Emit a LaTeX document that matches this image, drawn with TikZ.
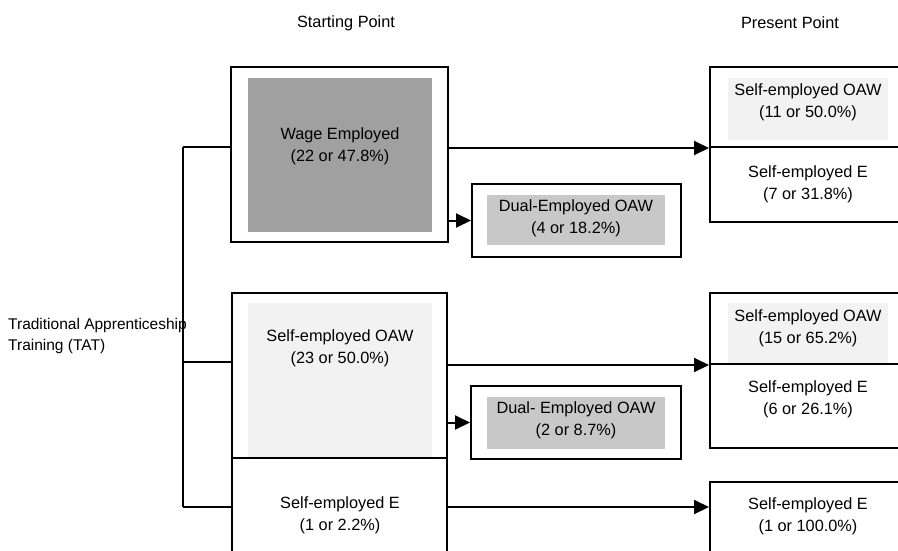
\documentclass[tikz,border=0pt]{standalone}
\usepackage{fontspec}
\setmainfont{Liberation Sans}
\usetikzlibrary{arrows.meta}
\definecolor{wagegrey}{HTML}{A0A0A0}
\definecolor{dualgrey}{HTML}{C8C8C8}
\definecolor{oawgrey}{HTML}{F2F2F2}
\tikzset{
  outerbox/.style={draw=black, line width=2pt, fill=white, rectangle, inner sep=0pt},
  shade/.style={rectangle, inner sep=0pt, draw=none},
  lbl/.style={align=center, inner sep=0pt, font=\fontsize{16.3}{22}\selectfont},
  link/.style={line width=2pt},
  arr/.style={line width=2pt, -{Triangle[length=15pt,width=14pt]}}
}
\begin{document}
\begin{tikzpicture}[x=1pt,y=-1pt]
\useasboundingbox (0,0) rectangle (898,550);
\clip (0,0) rectangle (898,550);

% headings
\node[lbl] (hstart) at (346,23) {Starting Point};
\node[lbl] (hpresent) at (790,23) {Present Point};

% left label
\node[align=left, anchor=west, inner sep=0pt, font=\fontsize{15.5}{21}\selectfont] (tat) at (8,335.5)
  {Traditional Apprenticeship\\Training (TAT)};

% starting point: wage employed
\node[outerbox, minimum width=217pt, minimum height=175pt] (wage) at (339.5,154.5) {};
\node[shade, fill=wagegrey, minimum width=184pt, minimum height=154pt] (wagein) at (340,155) {};
\node[lbl] (wagetxt) at (340,146) {Wage Employed\\ (22 or 47.8\%)};

% starting point: self-employed OAW
\node[outerbox, minimum width=215pt, minimum height=165pt] (midoaw) at (339.5,375.5) {};
\node[shade, fill=oawgrey, minimum width=184pt, minimum height=154pt] (midoawin) at (340,380) {};
\node[lbl] (midoawtxt) at (340,348.5) {Self-employed OAW\\(23 or 50.0\%)};

% starting point: self-employed E
\node[outerbox, minimum width=215pt, minimum height=98pt] (mide) at (339.5,507) {};
\node[lbl] (midetxt) at (340,515) {Self-employed E\\(1 or 2.2\%)};

% dual employed boxes
\node[outerbox, minimum width=209pt, minimum height=73pt] (dual1) at (576.5,220.5) {};
\node[shade, fill=dualgrey, minimum width=178pt, minimum height=50pt] (dual1in) at (576,220) {};
\node[lbl] (dual1txt) at (576,218) {Dual-Employed OAW\\(4 or 18.2\%)};

\node[outerbox, minimum width=210pt, minimum height=73pt] (dual2) at (576,422.5) {};
\node[shade, fill=dualgrey, minimum width=178pt, minimum height=52pt] (dual2in) at (576,423) {};
\node[lbl] (dual2txt) at (576,420) {Dual- Employed OAW\\(2 or 8.7\%)};

% present point, first group
\node[outerbox, minimum width=200pt, minimum height=80pt] (r1a) at (810,107) {};
\node[shade, fill=oawgrey, minimum width=160pt, minimum height=62pt] (r1ain) at (808,109) {};
\node[lbl] (r1atxt) at (808,102.5) {Self-employed OAW\\(11 or 50.0\%)};
\node[outerbox, minimum width=200pt, minimum height=75pt] (r1b) at (810,184.5) {};
\node[lbl] (r1btxt) at (808,184) {Self-employed E\\(7 or 31.8\%)};

% present point, second group
\node[outerbox, minimum width=200pt, minimum height=71pt] (r2a) at (810,328.5) {};
\node[shade, fill=oawgrey, minimum width=160pt, minimum height=60pt] (r2ain) at (808,333) {};
\node[lbl] (r2atxt) at (808,328.5) {Self-employed OAW\\(15 or 65.2\%)};
\node[outerbox, minimum width=200pt, minimum height=84pt] (r2b) at (810,406) {};
\node[lbl] (r2btxt) at (808,399) {Self-employed E\\(6 or 26.1\%)};

% present point, third group
\node[outerbox, minimum width=200pt, minimum height=90pt] (r3) at (810,527) {};
\node[lbl] (r3txt) at (808,516.5) {Self-employed E\\(1 or 100.0\%)};

% branching from the training label
\coordinate (j1) at (183,147);
\coordinate (j2) at (183,362);
\coordinate (j3) at (183,507);
\draw[link] (j1) -- (j3);
\draw[link] (j1) -- (j1 -| wage.west);
\draw[link] (j2) -- (j2 -| midoaw.west);
\draw[link] (j3) -- (j3 -| mide.west);

% transitions to the present point
\draw[arr] (r1a.south west -| wage.east) -- (r1a.south west);
\draw[arr] (dual1.west -| wage.east) -- (dual1.west);
\draw[arr] (r2a.south west -| midoaw.east) -- (r2a.south west);
\draw[arr] (dual2.west -| midoaw.east) -- (dual2.west);
\draw[arr] (j3 -| mide.east) -- (j3 -| r3.west);
\end{tikzpicture}
\end{document}
